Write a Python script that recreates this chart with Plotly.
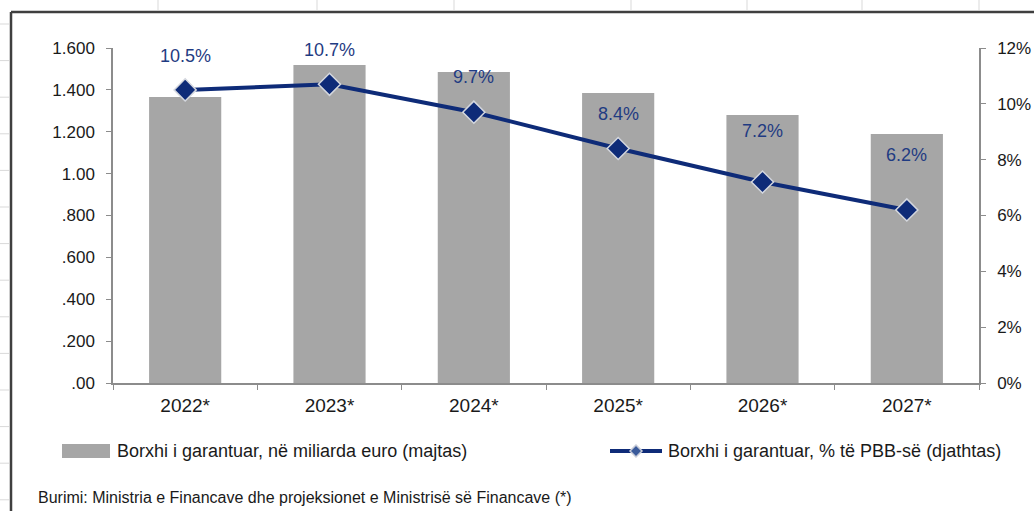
import plotly.graph_objects as go

# ---- data ----
years = ["2022*", "2023*", "2024*", "2025*", "2026*", "2027*"]
debt_bn_eur = [1366, 1519, 1485, 1385, 1280, 1189]        # left axis (shown as 1.600 etc.)
debt_pct_gdp = [10.5, 10.7, 9.7, 8.4, 7.2, 6.2]           # right axis, %
left_tickvals = [0, 200, 400, 600, 800, 1000, 1200, 1400, 1600]
left_ticktext = [".00", ".200", ".400", ".600", ".800", "1.00", "1.200", "1.400", "1.600"]
right_tickvals = [0, 2, 4, 6, 8, 10, 12]
right_ticktext = ["0%", "2%", "4%", "6%", "8%", "10%", "12%"]
bar_name = "Borxhi i garantuar, në miliarda euro (majtas)"
line_name = "Borxhi i garantuar, % të PBB-së (djathtas)"
source_text = "Burimi: Ministria e Financave dhe projeksionet e Ministrisë së Financave (*)"

# ---- style ----
FONT = "Liberation Sans, Arial, sans-serif"
W, H = 1034, 511
L, R, T, B = 113, 55, 48, 128
PW, PH = W - L - R, H - T - B
NAVY = "#0E2B78"
LABEL = "#1F3B82"
BAR = "#A6A6A6"
AXIS = "#8C8C8C"
TXT = "#1a1a1a"
label_shift = [34, 34, 35, 35, 51, 55]


def px(x):
    return (x - L) / PW


def py(y):
    return (H - B - y) / PH


fig = go.Figure()
fig.add_trace(go.Bar(x=years, y=debt_bn_eur, name=bar_name, marker=dict(color=BAR, line=dict(width=0)),
                     showlegend=False, yaxis="y"))
fig.add_trace(go.Scatter(x=years, y=debt_pct_gdp, name=line_name, mode="lines+markers", yaxis="y2",
                         line=dict(color=NAVY, width=4),
                         marker=dict(symbol="diamond", size=17, color=NAVY, line=dict(color="#D4D7DE", width=1.5)),
                         showlegend=False))

annotations = []
for yr, v, s in zip(years, debt_pct_gdp, label_shift):
    annotations.append(dict(x=yr, y=v, xref="x", yref="y2", text=f"{v:.1f}%", showarrow=False,
                            yshift=s, font=dict(family=FONT, size=18, color=LABEL)))

# custom legend + source
annotations += [
    dict(x=px(115), y=py(451), xref="paper", yref="paper", text=bar_name, showarrow=False,
         xanchor="left", yanchor="middle", font=dict(family=FONT, size=18, color=TXT)),
    dict(x=px(666), y=py(451), xref="paper", yref="paper", text=line_name, showarrow=False,
         xanchor="left", yanchor="middle", font=dict(family=FONT, size=18, color=TXT)),
    dict(x=px(36), y=py(497), xref="paper", yref="paper", text=source_text, showarrow=False,
         xanchor="left", yanchor="middle", font=dict(family=FONT, size=16, color=TXT)),
]

shapes = [
    dict(type="rect", xref="paper", yref="paper", x0=px(62), x1=px(110), y0=py(458), y1=py(444),
         fillcolor=BAR, line=dict(width=0)),
    dict(type="line", xref="paper", yref="paper", x0=px(610), x1=px(662), y0=py(451), y1=py(451),
         line=dict(color=NAVY, width=4)),
    dict(type="path", xref="paper", yref="paper",
         path=f"M {px(636)},{py(445)} L {px(642)},{py(451)} L {px(636)},{py(457)} L {px(630)},{py(451)} Z",
         fillcolor="#3A5A9A", line=dict(color="#C8CCD8", width=1.5)),
    # outer frame of the pasted chart
    dict(type="line", xref="paper", yref="paper", x0=px(11), x1=px(1034), y0=py(12), y1=py(12),
         line=dict(color="#3F3F3F", width=2.5)),
    dict(type="line", xref="paper", yref="paper", x0=px(11), x1=px(11), y0=py(12), y1=py(511),
         line=dict(color="#3F3F3F", width=2.5)),
]
# faint spreadsheet gridlines outside the frame
for gx in [158, 317, 454, 631, 747, 862, 979]:
    shapes.append(dict(type="line", xref="paper", yref="paper", x0=px(gx), x1=px(gx), y0=py(0), y1=py(10),
                       line=dict(color="#D9D9D9", width=1)))
k = 0
while 24 + 36.6 * k < 511:
    gy = 24 + 36.6 * k
    shapes.append(dict(type="line", xref="paper", yref="paper", x0=px(0), x1=px(9), y0=py(gy), y1=py(gy),
                       line=dict(color="#D9D9D9", width=1)))
    k += 1

fig.update_layout(
    width=W, height=H, margin=dict(l=L, r=R, t=T, b=B, autoexpand=False),
    paper_bgcolor="white", plot_bgcolor="white",
    bargap=0.5,
    font=dict(family=FONT, size=17, color=TXT),
    xaxis=dict(type="category", showgrid=False, showline=True, linecolor=AXIS, linewidth=1.5,
               ticks="outside", tickson="boundaries", ticklen=5, tickcolor=AXIS, tickwidth=1,
               ticklabelstandoff=4, tickfont=dict(family=FONT, size=19, color=TXT)),
    yaxis=dict(range=[0, 1600], tickvals=left_tickvals, ticktext=left_ticktext, showgrid=False, zeroline=False,
               showline=True, linecolor=AXIS, linewidth=1.5, ticks="outside", ticklen=5, tickcolor=AXIS,
               ticklabelstandoff=8, tickfont=dict(family=FONT, size=17, color=TXT)),
    yaxis2=dict(range=[0, 12], tickvals=right_tickvals, ticktext=right_ticktext, overlaying="y", side="right",
                showgrid=False, zeroline=False, showline=True, linecolor=AXIS, linewidth=1.5, ticks="outside",
                ticklen=5, tickcolor=AXIS, ticklabelstandoff=8,
                tickfont=dict(family=FONT, size=17, color=TXT)),
    annotations=annotations, shapes=shapes, showlegend=False,
)

fig.write_html("out.html", config={"displayModeBar": False},
               post_script="document.body.style.margin='0';")
